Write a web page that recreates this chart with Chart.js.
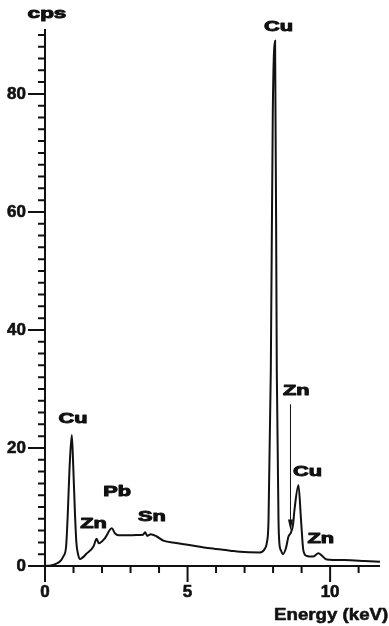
<!DOCTYPE html>
<html>
<head>
<meta charset="utf-8">
<script src="https://cdn.jsdelivr.net/npm/chart.js@4"></script>
<style>
  html, body { margin: 0; padding: 0; background: #fff; }
  #wrap { width: 389px; height: 626px; position: relative; }
</style>
</head>
<body>
<div id="wrap"><canvas id="spectrum"></canvas></div>
<script>
/* spectrum data: energy (keV) and counts (cps) */
const energy = [
    0.0, 0.2, 0.4, 0.53, 0.64, 0.74, 0.8, 0.86, 0.94, 0.99,
    1.05, 1.1, 1.16, 1.23, 1.46, 1.7, 1.81, 1.89, 2.1, 2.34,
    2.46, 2.57, 2.9, 3.2, 3.44, 3.51, 3.59, 3.71, 3.92, 4.15,
    4.6, 5.0, 5.8, 6.5, 6.84, 7.54, 7.72, 7.78, 7.84, 7.92,
    7.99, 8.07, 8.13, 8.19, 8.22, 8.28, 8.34, 8.45, 8.54, 8.62,
    8.7, 8.75, 8.89, 8.98, 9.06, 9.18, 9.4, 9.59, 9.7, 9.88,
    10.5, 11.2, 11.75
];
const counts = [
    0.0, 0.1, 0.4, 0.8, 1.6, 3.3, 9.0, 16.5, 22.2, 17.0,
    9.0, 4.0, 2.0, 1.2, 2.1, 3.3, 4.6, 3.85, 4.7, 6.4,
    5.5, 5.2, 5.2, 5.25, 5.3, 5.7, 5.1, 5.4, 5.0, 4.3,
    3.9, 3.6, 3.0, 2.6, 2.4, 2.3, 3.0, 3.9, 7.8, 33.0,
    77.0, 89.0, 33.0, 7.8, 3.9, 2.6, 2.0, 3.0, 5.0, 5.6,
    7.0, 9.5, 13.7, 7.8, 2.7, 1.7, 1.6, 2.15, 1.8, 1.1,
    1.0, 0.85, 0.7
];

/* axis ticks */
const xMajorTicks = [0, 5, 10];
const xMinorTicks = [1, 2, 3, 4, 6, 7, 8, 9, 11];
const yMajorTicks = [0, 20, 40, 60, 80];
const yMinorTicks = [2, 4, 6, 8, 10, 12, 14, 16, 18, 22, 24, 26, 28, 30, 32, 34, 36, 38,
    42, 44, 46, 48, 50, 52, 54, 56, 58, 62, 64, 66, 68, 70, 72, 74, 76, 78, 82, 84, 86, 88, 90];

/* peak labels, anchored in keV / cps */
const annotations = [
    { text: 'Cu', x: 0.98, y: 24.9 },
    { text: 'Zn', x: 1.70, y: 7.1 },
    { text: 'Pb', x: 2.53, y: 12.5 },
    { text: 'Sn', x: 3.75, y: 8.3 },
    { text: 'Cu', x: 8.19, y: 91.3 },
    { text: 'Zn', x: 8.81, y: 29.7 },
    { text: 'Cu', x: 9.21, y: 15.9 },
    { text: 'Zn', x: 9.67, y: 4.6 }
];
const arrow = { x: 8.61, yFrom: 27.4, yTo: 6.0 };

function stretchText(ctx, txt, x, y, size, sx, align, baseline, heavy) {
    ctx.save();
    ctx.translate(x, y);
    ctx.scale(sx, 1);
    ctx.font = 'bold ' + size + 'px "Liberation Sans", Arial, sans-serif';
    ctx.textAlign = align || 'center';
    ctx.textBaseline = baseline || 'middle';
    ctx.fillStyle = '#111';
    ctx.strokeStyle = '#111';
    ctx.lineJoin = 'round';
    ctx.fillText(txt, 0, 0);
    if (heavy) {
        ctx.lineWidth = heavy;
        ctx.strokeText(txt, 0, 0);
    }
    ctx.restore();
}

const axesPlugin = {
    id: 'axesPlugin',
    afterDatasetsDraw(chart) {
        const ctx = chart.ctx;
        const xs = chart.scales.x;
        const ys = chart.scales.y;
        const x0 = xs.getPixelForValue(0);
        const y0 = ys.getPixelForValue(0);
        ctx.save();
        ctx.strokeStyle = '#111';
        ctx.lineWidth = 2;
        ctx.lineCap = 'butt';

        // axis lines
        ctx.beginPath();
        ctx.moveTo(x0, ys.getPixelForValue(91));
        ctx.lineTo(x0, y0);
        ctx.moveTo(x0, y0);
        ctx.lineTo(xs.getPixelForValue(11.75), y0);
        ctx.stroke();

        // y ticks
        ctx.beginPath();
        yMinorTicks.forEach(v => {
            const p = ys.getPixelForValue(v);
            ctx.moveTo(x0 - 7, p);
            ctx.lineTo(x0, p);
        });
        yMajorTicks.forEach(v => {
            const p = ys.getPixelForValue(v);
            ctx.moveTo(x0 - 17, p);
            ctx.lineTo(x0, p);
        });
        // x ticks
        xMinorTicks.forEach(v => {
            const p = xs.getPixelForValue(v);
            ctx.moveTo(p, y0);
            ctx.lineTo(p, y0 + 7);
        });
        xMajorTicks.forEach(v => {
            const p = xs.getPixelForValue(v);
            ctx.moveTo(p, y0);
            ctx.lineTo(p, y0 + 16);
        });
        ctx.stroke();

        // tick labels
        yMajorTicks.forEach(v => {
            stretchText(ctx, String(v), x0 - 19, ys.getPixelForValue(v), 17, 1, 'right', 'middle', 0.6);
        });
        xMajorTicks.forEach(v => {
            stretchText(ctx, String(v), xs.getPixelForValue(v), y0 + 26, 17, 1, 'center', 'middle', 0.6);
        });

        // axis titles
        stretchText(ctx, 'cps', 47, 18, 15, 1.5, 'center', 'alphabetic', 1);
        stretchText(ctx, 'Energy (keV)', 274, 620, 17, 1.1, 'left', 'alphabetic', 0.6);

        // peak labels
        annotations.forEach(a => {
            stretchText(ctx, a.text, xs.getPixelForValue(a.x), ys.getPixelForValue(a.y), 15, 1.45, 'center', 'middle', 1);
        });

        // arrow
        const ax = xs.getPixelForValue(arrow.x);
        const ay1 = ys.getPixelForValue(arrow.yFrom);
        const ay2 = ys.getPixelForValue(arrow.yTo);
        ctx.lineWidth = 1;
        ctx.beginPath();
        ctx.moveTo(ax, ay1);
        ctx.lineTo(ax, ay2 - 8);
        ctx.stroke();
        ctx.fillStyle = '#111';
        ctx.beginPath();
        ctx.moveTo(ax - 2.5, ay2 - 11);
        ctx.lineTo(ax + 2.5, ay2 - 11);
        ctx.lineTo(ax, ay2);
        ctx.closePath();
        ctx.fill();
        ctx.restore();
    }
};

const spectrum = new Chart(document.getElementById('spectrum'), {
    type: 'line',
    data: {
        datasets: [{
            label: 'EDX',
            data: energy.map((e, i) => ({ x: e, y: counts[i] })),
            borderColor: '#111',
            borderWidth: 2,
            pointRadius: 0,
            cubicInterpolationMode: 'monotone',
            fill: false,
            clip: false
        }]
    },
    options: {
        responsive: true,
        maintainAspectRatio: false,
        animation: false,
        events: [],
        layout: {
            padding: { left: 45, right: 9, top: 29, bottom: 60 }
        },
        plugins: {
            legend: { display: false },
            tooltip: { enabled: false }
        },
        scales: {
            x: { type: 'linear', min: 0, max: 11.75, display: false },
            y: { type: 'linear', min: 0, max: 91, display: false }
        }
    },
    plugins: [axesPlugin]
});
</script>
</body>
</html>
